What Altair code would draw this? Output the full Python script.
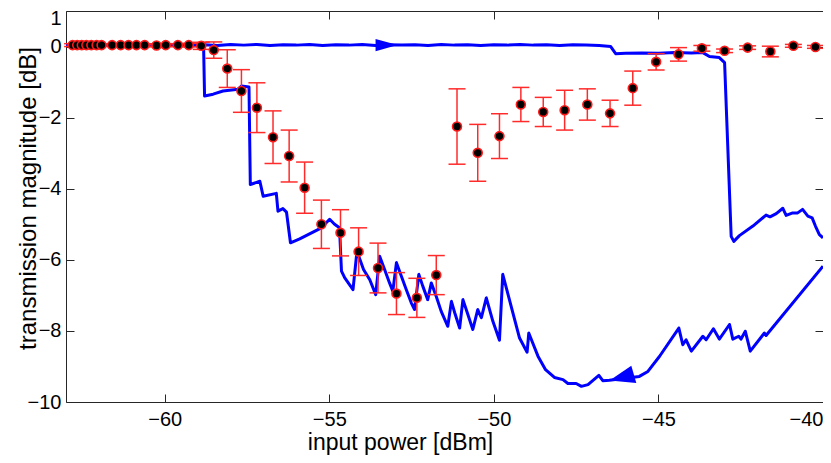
import altair as alt
import pandas as pd

FONT = "Liberation Sans"

# ---------------- measured points (red error bars, black dots) ----------------
pt_x = [-62.80, -62.66, -62.52, -62.38, -62.23, -62.07, -61.92, -61.60, -61.34, -61.10,
        -60.86, -60.61, -60.25, -59.97, -59.60, -59.27, -58.89, -58.51, -58.10, -57.67,
        -57.20, -56.71, -56.22, -55.75, -55.24, -54.66, -54.11, -53.52, -52.96, -52.34,
        -51.75, -51.12, -50.49, -49.83, -49.18, -48.50, -47.85, -47.16, -46.47, -45.78,
        -45.07, -44.39, -43.68, -42.99, -42.29, -41.60, -40.90, -40.23]
pt_y = [0.04, 0.04, 0.04, 0.04, 0.04, 0.04, 0.04, 0.04, 0.04, 0.04,
        0.04, 0.04, 0.03, 0.04, 0.04, 0.04, 0.02, -0.10, -0.62, -1.25,
        -1.72, -2.55, -3.08, -3.97, -5.00, -5.24, -5.77, -6.23, -6.95, -7.07,
        -6.43, -2.25, -2.99, -2.52, -1.63, -1.84, -1.79, -1.63, -1.88, -1.17,
        -0.43, -0.22, -0.05, -0.12, -0.03, -0.14, 0.02, -0.01]
pt_err = [0.04, 0.04, 0.04, 0.04, 0.04, 0.04, 0.04, 0.03, 0.03, 0.03,
          0.03, 0.03, 0.04, 0.04, 0.04, 0.05, 0.10, 0.23, 0.53, 0.60,
          0.70, 0.74, 0.73, 0.72, 0.68, 0.65, 0.67, 0.70, 0.59, 0.55,
          0.55, 1.06, 0.80, 0.63, 0.48, 0.41, 0.56, 0.44, 0.37, 0.48,
          0.23, 0.19, 0.08, 0.05, 0.05, 0.15, 0.04, 0.04]

# ---------------- simulated transmission, increasing power sweep ----------------
up_x = [-63.0, -62.0, -61.0, -60.0, -59.2, -58.8, -58.4, -58.0, -57.6, -57.2,
        -56.8, -56.4, -56.0, -55.6, -55.2, -54.8, -54.4, -54.0, -53.6, -53.2,
        -52.8, -52.4, -52.0, -51.6, -51.2, -50.8, -50.4, -50.0, -49.6, -49.2,
        -48.8, -48.4, -48.0, -47.6, -47.2, -46.8, -46.45, -46.3, -46.0, -45.5,
        -45.0, -44.5, -44.0, -43.65, -43.45, -43.15, -42.99, -42.79, -42.71, -42.54,
        -42.13, -41.73, -41.61, -41.42, -41.22, -41.12, -40.92, -40.77, -40.62, -40.46,
        -40.33, -40.23, -40.11, -40.0]
up_y = [0.04, 0.05, 0.04, 0.05, 0.04, 0.05, 0.03, 0.06, 0.04, 0.06,
        0.03, 0.05, 0.04, 0.06, 0.03, 0.05, 0.04, 0.06, 0.03, 0.05,
        0.04, 0.05, 0.03, 0.06, 0.04, 0.05, 0.03, 0.05, 0.04, 0.06,
        0.04, 0.05, 0.03, 0.05, 0.04, 0.03, 0.0, -0.20, -0.19, -0.18,
        -0.19, -0.17, -0.18, -0.17, -0.28, -0.31, -0.45, -5.34, -5.48, -5.32,
        -5.05, -4.74, -4.79, -4.70, -4.55, -4.75, -4.68, -4.68, -4.58, -4.77,
        -4.82, -5.05, -5.29, -5.38]

# ---------------- simulated transmission, decreasing power sweep ----------------
down_x = [-40.0, -41.73, -41.78, -42.21, -42.36, -42.49, -42.56, -42.74, -42.84, -43.15,
          -43.33, -43.55, -43.65, -44.00, -44.16, -44.26, -44.38, -44.97, -45.32, -45.58,
          -46.49, -46.69, -46.81, -47.14, -47.34, -47.50, -47.75, -47.90, -48.16, -48.43,
          -48.66, -48.94, -48.99, -49.22, -49.73, -49.83, -50.03, -50.23, -50.38, -50.49,
          -50.64, -50.79, -50.94, -51.04, -51.19, -51.29, -51.40, -51.60, -51.75, -51.90,
          -52.01, -52.16, -52.28, -52.41, -52.51, -52.66, -52.81, -52.96, -53.07, -53.17,
          -53.32, -53.47, -53.59, -53.77, -53.96, -54.16, -54.28, -54.53, -54.63, -54.69,
          -54.84, -54.99, -55.24, -55.90, -56.18, -56.30, -56.41, -56.56, -56.61, -57.01,
          -57.11, -57.40, -57.44, -57.67, -57.77, -58.23, -58.53, -58.79, -58.82, -60.0,
          -61.5, -63.0]
down_y = [-6.18, -8.13, -8.06, -8.57, -8.01, -8.23, -8.15, -8.23, -7.82, -8.23,
          -7.94, -8.25, -8.15, -8.57, -8.25, -8.39, -7.92, -8.72, -9.14, -9.28,
          -9.39, -9.40, -9.25, -9.51, -9.56, -9.48, -9.48, -9.37, -9.31, -9.09,
          -8.71, -8.06, -8.60, -8.20, -6.41, -8.26, -7.73, -7.07, -7.63, -7.40,
          -7.96, -7.54, -7.12, -7.92, -7.49, -7.17, -7.87, -7.45, -7.03, -6.65,
          -7.12, -6.74, -6.41, -7.40, -7.21, -6.84, -6.46, -6.08, -6.88, -6.65,
          -6.27, -5.90, -6.98, -6.56, -6.27, -5.76, -6.84, -6.51, -6.32, -5.10,
          -5.00, -4.86, -5.10, -5.41, -5.52, -4.66, -4.56, -4.63, -4.13, -4.21,
          -3.79, -3.88, -1.14, -1.11, -1.20, -1.25, -1.34, -1.39, 0.03, 0.04,
          0.05, 0.04]

# sweep-direction arrow positions
arrow_right_x = [-53.26]
arrow_right_y = [0.04]
arrow_left_x = [-46.09]
arrow_left_y = [-9.23]

x_ticks = [-60, -55, -50, -45, -40]
y_ticks = [-10, -8, -6, -4, -2, 0, 1]

# ---------------- tables ----------------
pts = pd.DataFrame({
    "x": pt_x, "y": pt_y,
    "lo": [y - e for y, e in zip(pt_y, pt_err)],
    "hi": [y + e for y, e in zip(pt_y, pt_err)],
})
lines = pd.concat([
    pd.DataFrame({"x": up_x, "y": up_y, "branch": "up", "i": range(len(up_x))}),
    pd.DataFrame({"x": down_x, "y": down_y, "branch": "down", "i": range(len(down_x))}),
])
arr_r = pd.DataFrame({"x": arrow_right_x, "y": arrow_right_y})
arr_l = pd.DataFrame({"x": arrow_left_x, "y": arrow_left_y})

xs = alt.Scale(domain=[-63, -40], nice=False, zero=False)
ys = alt.Scale(domain=[-10, 1], nice=False, zero=False)

AX = "#262626"
x_axis = alt.Axis(orient="bottom", values=x_ticks, offset=-8, tickSize=8, domain=False,
                  grid=False, labelPadding=7, labelFlush=True,
                  title="input power [dBm]",
                  titlePadding=2, titleX=334, titleAlign="center")
y_axis = alt.Axis(orient="left", values=y_ticks, offset=-8, tickSize=8, domain=False,
                  grid=False, labelPadding=5,
                  labelOffset={"condition": {"test": "datum.value == 1", "value": 7},
                               "value": 0},
                  title="transmission magnitude [dB]",
                  titleX=-46, titleY=187, titleAlign="center", titleBaseline="middle",
                  titleAngle=270, titleFontSize=24)

blue = "#0000ff"
red = "#ff2b2b"

line = alt.Chart(lines).mark_line(color=blue, strokeWidth=3, clip=True,
                                  strokeJoin="round").encode(
    x=alt.X("x:Q", scale=xs, axis=x_axis),
    y=alt.Y("y:Q", scale=ys, axis=y_axis),
    detail="branch:N",
    order="i:Q",
)

bars = alt.Chart(pts).mark_rule(color=red, strokeWidth=1.5).encode(
    x=alt.X("x:Q", scale=xs, axis=None),
    y=alt.Y("lo:Q", scale=ys, axis=None),
    y2="hi:Q",
)

caps = alt.Chart(pts).transform_fold(["lo", "hi"], as_=["k", "v"]).mark_tick(
    color=red, orient="horizontal", size=17, thickness=1.5, opacity=1
).encode(
    x=alt.X("x:Q", scale=xs, axis=None),
    y=alt.Y("v:Q", scale=ys, axis=None),
)

dots = alt.Chart(pts).mark_point(shape="circle", filled=True, fill="black",
                                 stroke="#ff1a1a", strokeWidth=1.6, size=80, opacity=1,
                                 fillOpacity=1, strokeOpacity=1).encode(
    x=alt.X("x:Q", scale=xs, axis=None),
    y=alt.Y("y:Q", scale=ys, axis=None),
)

ar_r = alt.Chart(arr_r).mark_point(shape="M1,0L-1,-0.55L-1,0.55Z", filled=True,
                                   color=blue, size=484, opacity=1).encode(
    x=alt.X("x:Q", scale=xs, axis=None),
    y=alt.Y("y:Q", scale=ys, axis=None),
)
ar_l = alt.Chart(arr_l).mark_point(shape="M-1.04,0.46L0.7,-0.72L1.1,0.66Z", filled=True,
                                   color=blue, size=625, opacity=1).encode(
    x=alt.X("x:Q", scale=xs, axis=None),
    y=alt.Y("y:Q", scale=ys, axis=None),
)

frame = alt.Chart(pts).mark_point(opacity=0).encode(
    x=alt.X("x:Q", scale=xs, axis=alt.Axis(orient="top", values=x_ticks, offset=-8,
                                           tickSize=8, labels=False, domain=False,
                                           grid=False, title=None)),
    y=alt.Y("y:Q", scale=ys, axis=alt.Axis(orient="right", values=y_ticks, offset=-8,
                                           tickSize=8, labels=False, domain=False,
                                           grid=False, title=None)),
)

chart = alt.layer(line, bars, caps, dots, ar_r, ar_l, frame).resolve_axis(
    x="independent", y="independent"
).properties(
    width=757, height=391,
    padding={"left": 58, "top": 3, "right": 0, "bottom": 53},
    autosize=alt.AutoSizeParams(type="none"),
).configure_view(
    stroke=AX, strokeWidth=1
).configure_axis(
    tickColor=AX, tickWidth=1, labelFont=FONT, labelFontSize=20, labelColor="#000000",
    titleFont=FONT, titleFontSize=23, titleFontWeight="normal", titleColor="#000000",
)

chart.save("out.html", embed_options={"renderer": "svg", "actions": False})
